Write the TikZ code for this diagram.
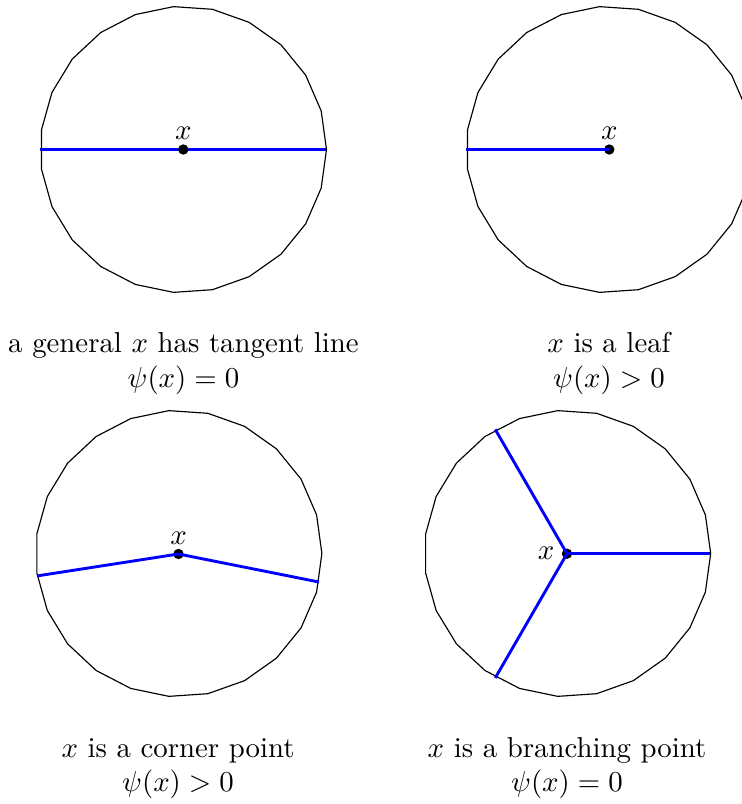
\documentclass[tikz,border=0pt]{standalone}
\begin{document}
\begin{tikzpicture}[x=0.347pt,y=0.347pt,
  rim/.style={draw=black,line width=0.4pt,line join=miter},
  blueline/.style={draw=blue,line width=1pt},
  dotnode/.style={circle,fill=black,inner sep=0pt,minimum size=3.6pt},
  lbl/.style={inner sep=0pt,anchor=base},
  captxt/.style={inner sep=0pt,anchor=base,font=\normalsize}]
\useasboundingbox (0,0) rectangle (742,804);
\clip (0,0) rectangle (742,804);
% panel 1
\coordinate (c1) at (183.3,654.5);
\draw[rim,shift={(c1)}] plot[domain=0:360,samples=24] (\x:143.2);
\path (c1) ++(180:143.2) coordinate (c1l);
\path (c1) ++(0:143.2) coordinate (c1r);
\draw[blueline] (c1l) -- (c1r);
\node[dotnode] (x1) at (c1) {};
\node[lbl] (x1t) at (183.3,664.5) {$x$};
\node[captxt] (t1a) at (183.5,452) {a general $x$ has tangent line};
\node[captxt] (t1b) at (183.5,417) {$\psi(x)=0$};
% panel 2
\coordinate (c2) at (609.3,654.5);
\draw[rim,shift={(c2)}] plot[domain=0:360,samples=24] (\x:143.2);
\path (c2) ++(180:143.2) coordinate (c2l);
\node[dotnode] (x2) at (c2) {};
\draw[blueline] (c2l) -- (x2.center);
\node[lbl] (x2t) at (609.3,664.5) {$x$};
\node[captxt] (t2a) at (609,452) {$x$ is a leaf};
\node[captxt] (t2b) at (609,417) {$\psi(x)>0$};
% panel 3
\coordinate (c3) at (178.7,250.5);
\draw[rim,shift={(c3)}] plot[domain=0:360,samples=24] (\x:143.2);
\path (c3) ++(189:143.2) coordinate (c3l);
\path (c3) ++(-11.5:143.2) coordinate (c3r);
\node[dotnode] (x3) at (178.5,250) {};
\draw[blueline] (c3l) -- (x3.center) -- (c3r);
\node[lbl] (x3t) at (178.5,260) {$x$};
\node[captxt] (t3a) at (178,47) {$x$ is a corner point};
\node[captxt] (t3b) at (178,12.5) {$\psi(x)>0$};
% panel 4
\coordinate (c4) at (567.5,250.5);
\draw[rim,shift={(c4)}] plot[domain=0:360,samples=24] (\x:143.2);
\node[dotnode] (x4) at (567,250.3) {};
\path (x4.center) ++(0:143.5) coordinate (c4a);
\path (x4.center) ++(120:143.5) coordinate (c4b);
\path (x4.center) ++(240:143.5) coordinate (c4c);
\draw[blueline] (x4.center) -- (c4a);
\draw[blueline] (x4.center) -- (c4b);
\draw[blueline] (x4.center) -- (c4c);
\node[lbl,anchor=base east] (x4t) at (555,244) {$x$};
\node[captxt] (t4a) at (567,47) {$x$ is a branching point};
\node[captxt] (t4b) at (567,12.5) {$\psi(x)=0$};
\end{tikzpicture}
\end{document}
